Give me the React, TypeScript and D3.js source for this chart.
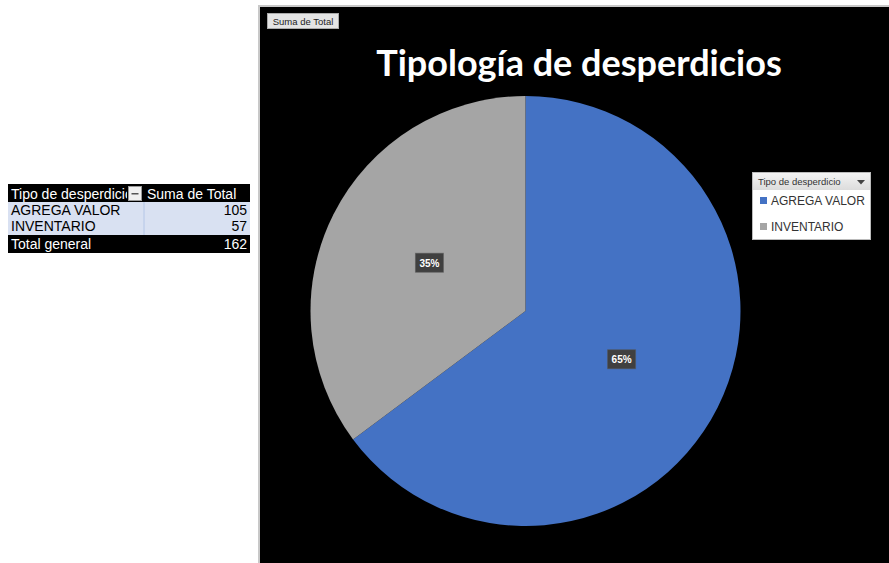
import React from "react";
import * as d3 from "d3";

const categories = ["AGREGA VALOR", "INVENTARIO"];
const values = [105, 57];
const totalLabel = "Total general";
const colors = ["#4472C4", "#A5A5A5"];

export default function App() {
  const W = 889, H = 563;
  const total = d3.sum(values);
  const cx = 525.5, cy = 311, r = 215;
  const pie = d3.pie<number>().sort(null).value((d) => d);
  const arcs = pie(values);
  const arcGen = d3.arc<d3.PieArcDatum<number>>().innerRadius(0).outerRadius(r);
  const labelArc = d3.arc<d3.PieArcDatum<number>>().innerRadius(r * 0.5).outerRadius(r * 0.5);
  const pct = d3.format(".0%");

  const tx = 8, tw = 242, col = 144;
  const rowY = [184, 202, 218, 235, 253];

  return (
    <svg width={W} height={H} style={{ position: "absolute", left: 0, top: 0 }}
      fontFamily="Liberation Sans, Arial, sans-serif">
      <rect x={0} y={0} width={W} height={H} fill="#fff" />
      {/* pivot table */}
      <rect x={tx} y={rowY[0]} width={tw} height={rowY[1] - rowY[0]} fill="#000" />
      <rect x={tx} y={rowY[1]} width={tw} height={rowY[3] - rowY[1]} fill="#D9E1F2" />
      <line x1={col} x2={col} y1={rowY[1]} y2={rowY[3]} stroke="#B4C6E7" />
      <rect x={tx} y={rowY[3]} width={tw} height={rowY[4] - rowY[3]} fill="#000" />
      <g fontSize={14}>
        <text x={11} y={199} fill="#fff">Tipo de desperdicio</text>
        <rect x={127} y={185} width={17} height={16} fill="#000" />
        <rect x={128.5} y={186.5} width={13} height={14} fill="#f0f0f0" stroke="#999" />
        <path d="M131.5,193 h7 v1.5 h-7 z" fill="#555" />
        <text x={147} y={199} fill="#fff">Suma de Total</text>
        {categories.map((c, i) => (
          <g key={c}>
            <text x={11} y={rowY[i + 1] + 13} fill="#000">{c}</text>
            <text x={247} y={rowY[i + 1] + 13} fill="#000" textAnchor="end">{values[i]}</text>
          </g>
        ))}
        <text x={11} y={rowY[3] + 14} fill="#fff">{totalLabel}</text>
        <text x={247} y={rowY[3] + 14} fill="#fff" textAnchor="end">{total}</text>
      </g>

      {/* chart area */}
      <rect x={258} y={5} width={W - 258} height={H - 5} fill="#c8c8c8" />
      <rect x={260} y={7} width={W - 260} height={H - 7} fill="#000" />
      <rect x={267.5} y={13.5} width={71} height={15} fill="#e4e4e4" stroke="#aaa" />
      <text x={303} y={25} fontSize={9.5} textAnchor="middle" fill="#222">Suma de Total</text>

      <text x={579} y={76} fontSize={36} fontWeight="bold" fill="#fff" textAnchor="middle"
        fontFamily="Lato, Open Sans, sans-serif">Tipología de desperdicios</text>

      <g transform={`translate(${cx},${cy})`}>
        {arcs.map((a, i) => (
          <path key={i} d={arcGen(a) || ""} fill={colors[i]} />
        ))}
        {arcs.map((a, i) => {
          const [lx, ly] = labelArc.centroid(a);
          return (
            <g key={"l" + i} transform={`translate(${lx},${ly})`}>
              <rect x={-14} y={-9.5} width={28} height={19} fill="#404040" />
              <rect x={-14} y={-9.5} width={28} height={19} fill="none" stroke="#555" strokeWidth={1} opacity={0.5} />
              <text x={0} y={4} fontSize={10} fontWeight="bold" fill="#fff" textAnchor="middle">{pct(a.data / total)}</text>
            </g>
          );
        })}
      </g>

      {/* legend */}
      <rect x={752.5} y={172.5} width={118} height={67} fill="#fff" stroke="#bbb" />
      <defs>
        <linearGradient id="lg" x1="0" y1="0" x2="0" y2="1">
          <stop offset="0" stopColor="#f4f4f4" />
          <stop offset="1" stopColor="#dcdcdc" />
        </linearGradient>
      </defs>
      <rect x={753} y={173} width={117} height={17} fill="url(#lg)" />
      <text x={758} y={185} fontSize={9.5} fill="#333">Tipo de desperdicio</text>
      <path d="M857,180 h8 l-4,4.5 z" fill="#444" />
      {categories.map((c, i) => (
        <g key={"lg" + i}>
          <rect x={760} y={197 + i * 26} width={7} height={7} fill={colors[i]} />
          <text x={771} y={205 + i * 26} fontSize={12} fill="#333">{c}</text>
        </g>
      ))}
    </svg>
  );
}
